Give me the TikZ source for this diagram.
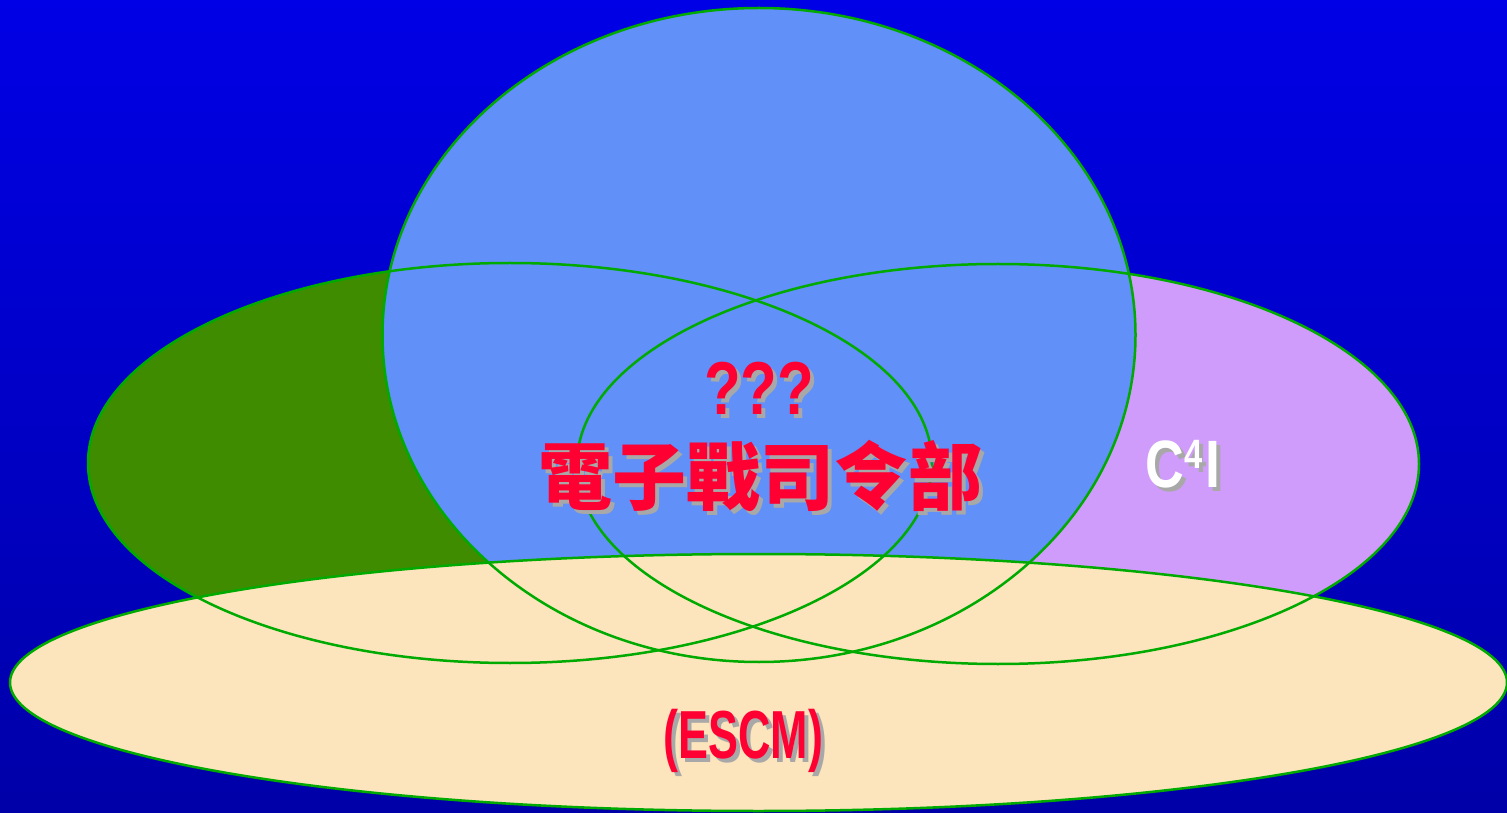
\documentclass[tikz,border=0pt]{standalone}
\usepackage{fontspec}
\usetikzlibrary{calc}

\newfontfamily\cjkfont{Noto Sans CJK TC}
\newfontfamily\narrowfont[FakeStretch=0.8]{Liberation Sans}
\newfontfamily\slimfont[FakeStretch=0.66]{Liberation Sans}

\definecolor{bgtop}{HTML}{0000E6}
\definecolor{bgbot}{HTML}{0000A8}
\definecolor{leafgreen}{HTML}{408C00}
\definecolor{lilac}{HTML}{D09CFC}
\definecolor{skyblue}{HTML}{6090F8}
\definecolor{sand}{HTML}{FCE4BC}
\definecolor{rimgreen}{HTML}{00AA00}
\definecolor{alertred}{HTML}{FF0033}
\definecolor{shadegray}{HTML}{A8A8A8}

\tikzset{
  rim/.style={draw=rimgreen, line width=2.5pt},
  lettering/.style={inner sep=0pt, anchor=base, font=\bfseries},
  dropshade/.style={lettering, text=shadegray}
}

% text with a grey drop shadow behind it
\newcommand\dropnode[4]{%
  \node[dropshade] at ($#2+(4,-4)$) {#4};
  \node[lettering, text=#3] (#1) at #2 {#4};}

\begin{document}
\begin{tikzpicture}[x=1pt,y=1pt]
  \useasboundingbox (0,0) rectangle (1507,812);
  \shade[top color=bgtop, bottom color=bgbot] (0,0) rectangle (1507,812);

  % fills first, outlines on top of all of them
  \foreach \cx/\cy/\rx/\ry/\col in {510/349/422/200/leafgreen,
      998/348/421/200/lilac, 759/477/376.5/327/skyblue,
      758.5/129.5/748.5/128.5/sand}
    \fill[\col] (\cx,\cy) ellipse [x radius=\rx pt, y radius=\ry pt];
  \foreach \cx/\cy/\rx/\ry in {510/349/422/200, 998/348/421/200,
      759/477/376.5/327, 758.5/129.5/748.5/128.5}
    \path[rim] (\cx,\cy) ellipse [x radius=\rx pt, y radius=\ry pt];

  \dropnode{ask}{(759,397)}{alertred}{\narrowfont\fontsize{75}{80}\selectfont ???}
  \dropnode{escm}{(743.5,54)}{alertred}{\slimfont\fontsize{68}{70}\selectfont (ESCM)}
  \dropnode{cfour}{(1183,324)}{white}{\narrowfont\fontsize{67}{70}\selectfont
    C\raisebox{19pt}{\fontsize{41}{42}\selectfont 4}\kern3pt I}
  \dropnode{ewc}{(760,307)}{alertred}{\cjkfont\fontsize{74}{80}\selectfont 電子戰司令部}
\end{tikzpicture}
\end{document}
